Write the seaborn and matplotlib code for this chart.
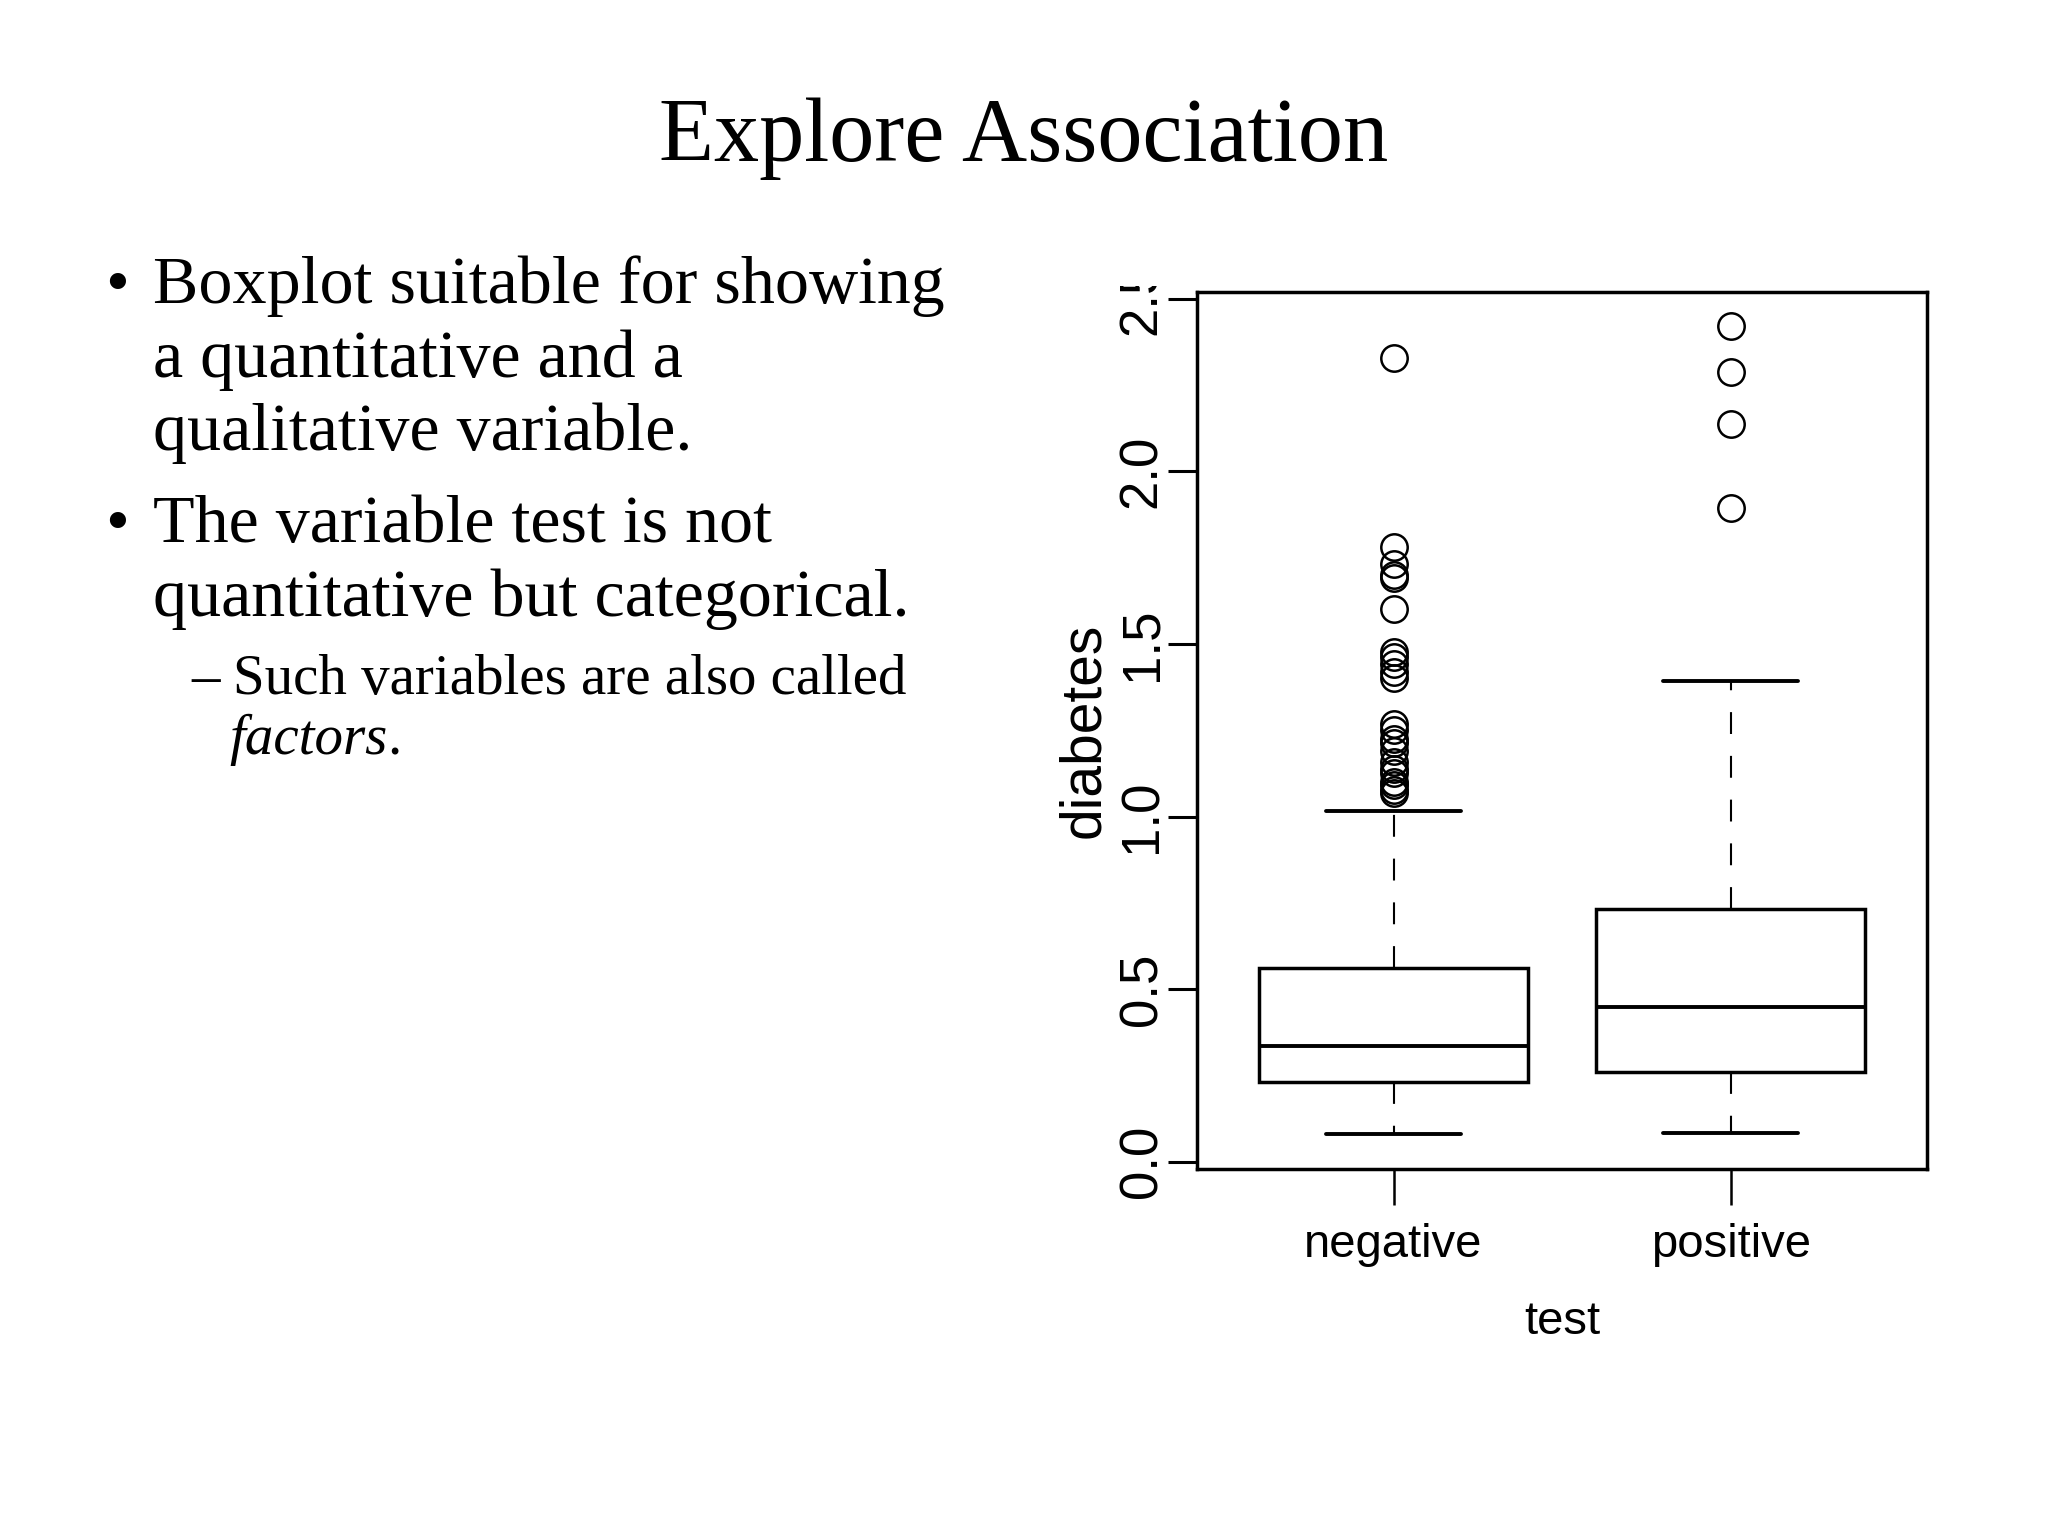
import matplotlib
matplotlib.use("Agg")
import matplotlib.pyplot as plt
from matplotlib.transforms import Bbox, TransformedBbox
from matplotlib import font_manager as fm
import seaborn as sns
import pandas as pd

# ---------------- data ----------------
categories = ["negative", "positive"]

neg_whisker_low = 0.079
neg_q1 = 0.230
neg_median = 0.336
neg_q3 = 0.561
neg_whisker_high = 1.015
neg_outliers = [2.329, 1.781, 1.731, 1.699, 1.690, 1.600, 1.476, 1.461, 1.441,
                1.420, 1.400, 1.268, 1.251, 1.224, 1.213, 1.189, 1.159, 1.138,
                1.127, 1.101, 1.090, 1.076, 1.068]

pos_whisker_low = 0.084
pos_q1 = 0.259
pos_median = 0.448
pos_q3 = 0.733
pos_whisker_high = 1.394
pos_outliers = [2.420, 2.288, 2.137, 1.893]

y_ticks = [0.0, 0.5, 1.0, 1.5, 2.0, 2.5]
y_tick_labels = ["0.0", "0.5", "1.0", "1.5", "2.0", "2.5"]

title = "Explore Association"
bullets = ["Boxplot suitable for showing", "a quantitative and a",
           "qualitative variable.", "The variable test is not",
           "quantitative but categorical."]
sub_line = "Such variables are also called"
sub_italic = "factors"
sub_end = "."


def expand(lo, q1, med, q3, hi, outliers):
    """Build a sample whose five-number summary equals the given stats."""
    k = len(outliers) + 1
    return [lo] + [q1] * k + [med] * k + [q3] * k + [hi] + list(outliers)


neg_vals = expand(neg_whisker_low, neg_q1, neg_median, neg_q3, neg_whisker_high, neg_outliers)
pos_vals = expand(pos_whisker_low, pos_q1, pos_median, pos_q3, pos_whisker_high, pos_outliers)
df = pd.DataFrame({
    "test": [categories[0]] * len(neg_vals) + [categories[1]] * len(pos_vals),
    "diabetes": neg_vals + pos_vals,
})

# ---------------- style ----------------
sns.set_theme(style="ticks")
plt.rcParams["font.family"] = ["Liberation Sans", "DejaVu Sans"]

names = {f.name for f in fm.fontManager.ttflist}
narrow = "Liberation Sans Narrow" if "Liberation Sans Narrow" in names else "Liberation Sans"
xt_size = 42 if narrow == "Liberation Sans Narrow" else 34

fig = plt.figure(figsize=(20.48, 15.36), dpi=100, facecolor="white")
ax = fig.add_axes([0.5845, 0.2392, 0.941 - 0.5845, 0.810 - 0.2392])
ax.set_facecolor("white")

sns.boxplot(
    data=df, x="test", y="diabetes", order=categories, ax=ax,
    width=0.8, color="white", linecolor="black", linewidth=2.5, whis=1.5,
    boxprops=dict(facecolor="white", edgecolor="black", linewidth=2.5),
    medianprops=dict(color="black", linewidth=2.8),
    whiskerprops=dict(color="black", linewidth=1.5, linestyle=(0, (10.5, 10.5))),
    capprops=dict(color="black", linewidth=2.8),
    flierprops=dict(marker="o", markerfacecolor="none", markeredgecolor="black",
                    markersize=19, markeredgewidth=1.8),
)

ax.set_xlim(-0.583, 1.583)
ax.set_ylim(-0.02, 2.52)

for s in ax.spines.values():
    s.set_visible(True)
    s.set_color("black")
    s.set_linewidth(2.5)

ax.set_yticks(y_ticks)
ax.set_yticklabels(y_tick_labels, rotation=90, va="center", fontsize=38)
ax.tick_params(axis="y", length=21, width=2.2, color="black", pad=0.5, labelcolor="black")
ax.set_xticks([0, 1])
ax.set_xticklabels(categories, fontsize=xt_size, family=[narrow, "DejaVu Sans"])
ax.tick_params(axis="x", length=26, width=1.8, color="black", pad=13, labelcolor="black")

ax.set_xlabel("test", fontsize=xt_size, family=[narrow, "DejaVu Sans"], color="black")
ax.xaxis.set_label_coords(0.5, -0.175)
ax.xaxis.label.set_va("center")
ax.set_ylabel("diabetes", fontsize=41, color="black")
ax.yaxis.set_label_coords(-0.155, 0.5)
ax.yaxis.label.set_va("center")

# the top tick label is cut off by the edge of the pasted plot image
clip = TransformedBbox(Bbox([[0.0, 0.0], [1.0, 0.8135]]), fig.transFigure)
for lab in ax.get_yticklabels():
    if lab.get_text() == "2.5":
        lab.set_clip_box(clip)
        lab.set_clip_on(True)

# ---------------- slide text ----------------
serif = ["Liberation Serif", "DejaVu Serif"]
H = 1536.0
W = 2048.0
fig.text(0.5, 1 - 161 / H, title, ha="center", va="baseline", fontsize=65,
         family=serif, color="black")

bullet_baselines = [303, 377, 450, 542, 616]
bullet_starts = [0, 3]
for i, (line, yb) in enumerate(zip(bullets, bullet_baselines)):
    if i in bullet_starts:
        fig.text(105 / W, 1 - yb / H, "\u2022", ha="left", va="baseline",
                 fontsize=49, family=serif, color="black")
    fig.text(153 / W, 1 - yb / H, line, ha="left", va="baseline",
             fontsize=49, family=serif, color="black")

fig.text(191 / W, 1 - 694 / H, "\u2013", ha="left", va="baseline",
         fontsize=41, family=serif, color="black")
fig.text(233 / W, 1 - 694 / H, sub_line, ha="left", va="baseline",
         fontsize=41, family=serif, color="black")
it = fig.text(229 / W, 1 - 754 / H, sub_italic, ha="left", va="baseline",
              fontsize=41, family=serif, style="italic", color="black")
fig.canvas.draw()
bb = it.get_window_extent()
fig.text(bb.x1 / W, 1 - 754 / H, sub_end, ha="left", va="baseline",
         fontsize=41, family=serif, color="black")

fig.savefig("out.png", dpi=100, facecolor="white")
